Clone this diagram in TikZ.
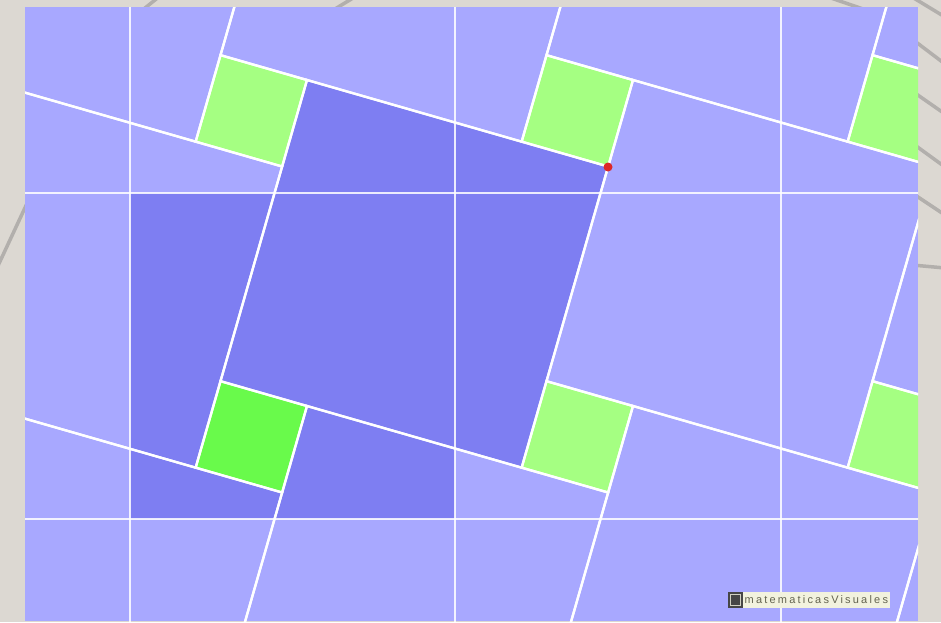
\documentclass[tikz,border=0pt]{standalone}
\usepackage{fontspec}
\newfontfamily\wmfont[LetterSpace=20]{Liberation Sans}
\definecolor{bg}{RGB}{220,216,210}
\definecolor{lightblue}{RGB}{168,168,255}
\definecolor{darkblue}{RGB}{126,126,242}
\definecolor{lightgreen}{RGB}{165,255,130}
\definecolor{brightgreen}{RGB}{105,250,75}
\definecolor{strokegray}{RGB}{178,175,172}
\definecolor{cream}{RGB}{242,242,222}
\definecolor{wmtext}{RGB}{100,100,80}
\definecolor{icongray}{RGB}{70,70,70}
\definecolor{dotred}{RGB}{220,40,40}
\begin{document}
\begin{tikzpicture}[x=1pt,y=-1pt,
  edge/.style={white, line width=2.3pt, line join=miter},
  gridline/.style={white, opacity=0.85, line width=2.6pt},
  bgstroke/.style={strokegray, line width=3.5pt},
  ]
\useasboundingbox (0,0) rectangle (941,622);
\fill[bg] (0,0) rectangle (941,622);
% background decorative strokes
\draw[bgstroke] (140,12) -- (160,-4);
\draw[bgstroke] (330,12) -- (358,-5);
\draw[bgstroke] (828,-3) -- (866,10);
\draw[bgstroke] (912,-3) -- (945,17);
\draw[bgstroke] (912,39) -- (945,64);
\draw[bgstroke] (912,91) -- (945,114);
\draw[bgstroke] (912,143) -- (945,167);
\draw[bgstroke] (912,193) -- (945,215);
\draw[bgstroke] (912,265) -- (945,268);
\draw[bgstroke] (-4,270) -- (30,197);
\begin{scope}
\clip (25,7) rectangle (918,621);
\fill[lightblue] (25,7) rectangle (918,621);
% small squares
\foreach \m in {-2,...,2} \foreach \n in {-2,...,1} {
  \fill[lightgreen, shift={(326*\m,326*\n)}] (307,80) -- ++(-86.5,-24.85) -- ++(-24.85,86.5) -- ++(86.5,24.85) -- cycle;
}
% dissection overlay
\fill[darkblue] (130,193) rectangle (455,519);
\fill[darkblue] (307,80) -- ++(301.15,86.5) -- ++(-86.5,301.15) -- ++(-301.15,-86.5) -- cycle;
\fill[brightgreen] (307,406) -- ++(-86.5,-24.85) -- ++(-24.85,86.5) -- ++(86.5,24.85) -- cycle;
% grid
\foreach \x in {130,455,781} \draw[gridline] (\x,0) -- (\x,630);
\foreach \y in {193,519} \draw[gridline] (0,\y) -- (950,\y);
% tile edges
\foreach \m in {-2,...,2} \foreach \n in {-2,...,1} {
  \draw[edge, shift={(326*\m,326*\n)}] (307,80) -- ++(301.15,86.5) -- ++(-86.5,301.15) -- ++(-301.15,-86.5) -- cycle;
  \draw[edge, shift={(326*\m,326*\n)}] (307,80) -- ++(-86.5,-24.85) -- ++(-24.85,86.5) -- ++(86.5,24.85) -- cycle;
}
\end{scope}
\node[circle, fill=dotred, inner sep=0pt, minimum size=9pt] (reddot) at (608,167) {};
\node[fill=cream, inner sep=1.5pt, anchor=west, text=wmtext, font=\wmfont\fontsize{11}{12}\selectfont, minimum height=16pt] (wm) at (743,600) {matematicasVisuales};
\node[fill=icongray, inner sep=0pt, minimum width=15pt, minimum height=16pt, anchor=east] (icon) at (wm.west) {};
\draw[cream!70!gray, line width=1pt] ([shift={(3,-3)}]icon.south west) rectangle ([shift={(-3,3)}]icon.north east);
\end{tikzpicture}
\end{document}
